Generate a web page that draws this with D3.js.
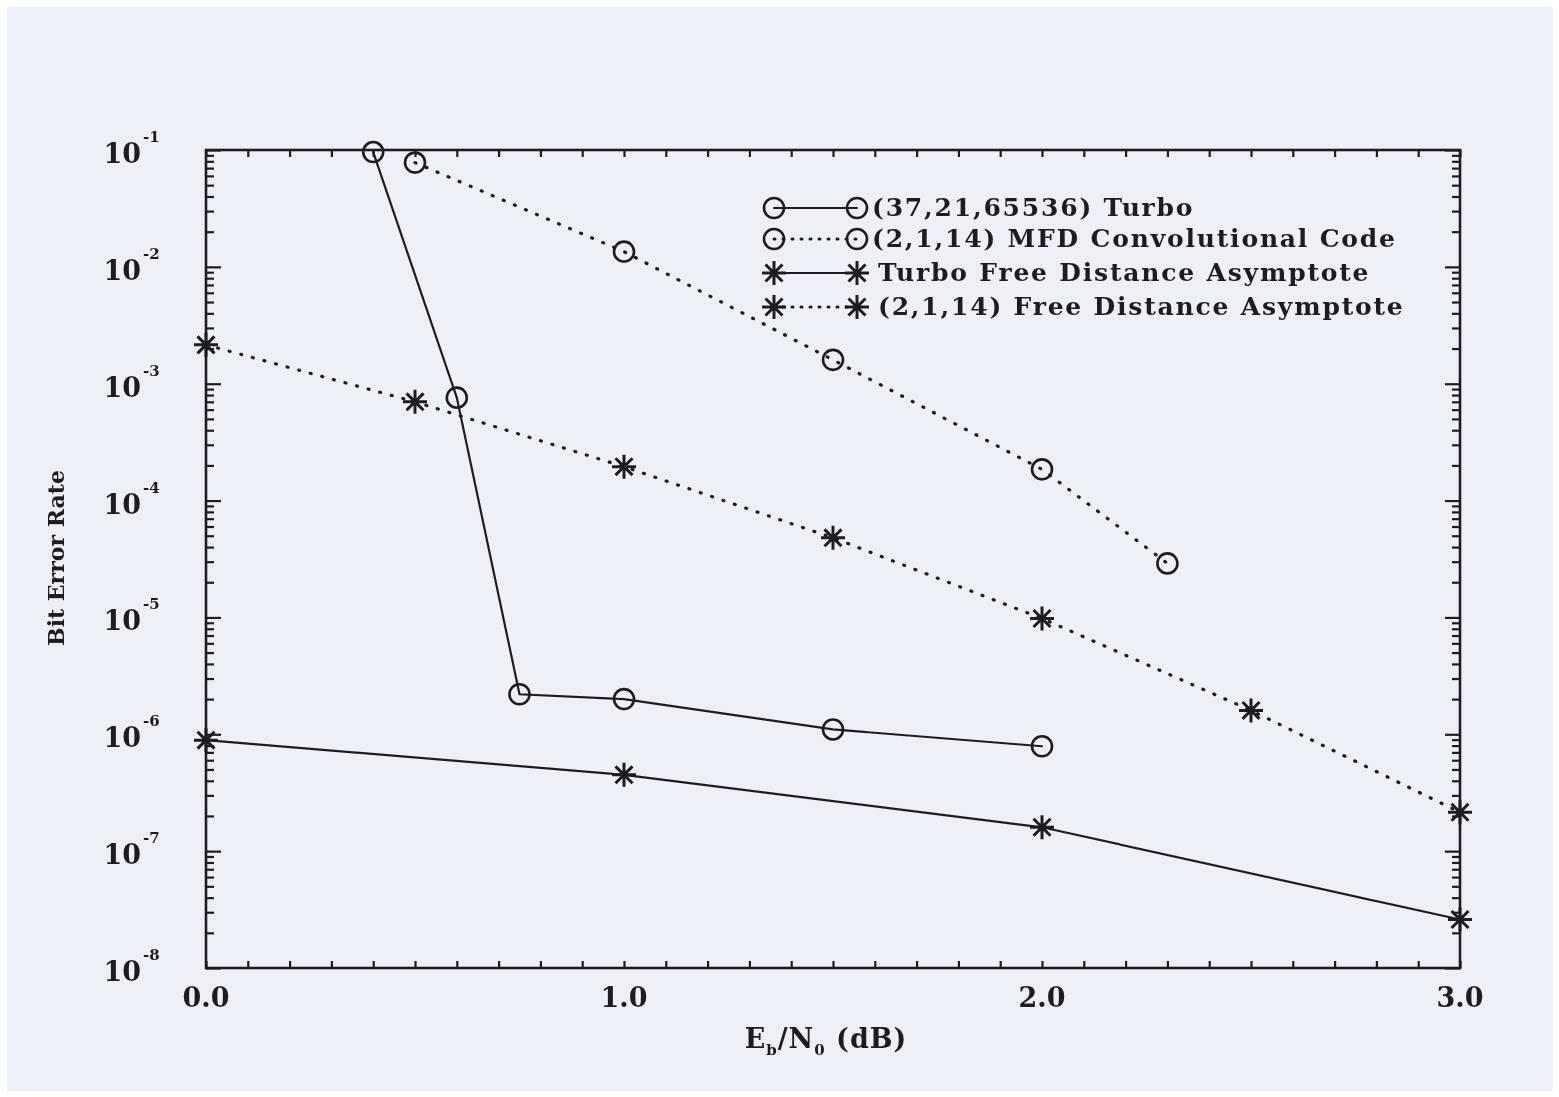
<!DOCTYPE html>
<html>
<head>
<meta charset="utf-8">
<script src="https://cdn.jsdelivr.net/npm/d3@7/dist/d3.min.js"></script>
<style>
  html, body { margin: 0; padding: 0; background: #ffffff; }
  svg { display: block; }
  text { font-family: "DejaVu Serif", "Liberation Serif", serif; font-weight: bold; fill: #1e1e22; }
</style>
</head>
<body>
<svg id="chart" width="1559" height="1097"></svg>
<script>
// Eb/N0 sample points (dB) and bit error rates for each curve
const turboX = [0.4, 0.6, 0.75, 1.0, 1.5, 2.0];
const turboBER = [9.6e-2, 7.6e-4, 2.2e-6, 2.0e-6, 1.1e-6, 7.9e-7];

const mfdX = [0.5, 1.0, 1.5, 2.0, 2.3];
const mfdBER = [7.8e-2, 1.35e-2, 1.6e-3, 1.85e-4, 2.9e-5];

const turboAsymX = [0.0, 1.0, 2.0, 3.0];
const turboAsymBER = [8.9e-7, 4.5e-7, 1.6e-7, 2.6e-8];

const convAsymX = [0.0, 0.5, 1.0, 1.5, 2.0, 2.5, 3.0];
const convAsymBER = [2.15e-3, 7.0e-4, 1.95e-4, 4.8e-5, 9.8e-6, 1.6e-6, 2.15e-7];

const xTickLabels = ["0.0", "1.0", "2.0", "3.0"];
const yDecades = [-1, -2, -3, -4, -5, -6, -7, -8];

const legendLabels = [
  "(37,21,65536) Turbo",
  "(2,1,14) MFD Convolutional Code",
  "Turbo Free Distance Asymptote",
  "(2,1,14) Free Distance Asymptote"
];

const ink = "#1e1e22";
const svg = d3.select("#chart");

// soft scan look
const defs = svg.append("defs");
defs.append("filter").attr("id", "soft")
  .append("feGaussianBlur").attr("stdDeviation", 0.6);

// paper sheet
svg.append("rect").attr("x", 7).attr("y", 7).attr("width", 1546).attr("height", 1084)
  .attr("fill", "#eef0f8");

const g = svg.append("g").attr("filter", "url(#soft)");

const plotL = 206, plotR = 1460, plotT = 150, plotB = 968;
const x = d3.scaleLinear().domain([0, 3]).range([plotL, plotR]);
const y = d3.scaleLog().domain([1e-8, 1e-1]).range([plotB, plotT]);

// tick values
const majorY = yDecades.map(e => Math.pow(10, e));
const minorY = [];
for (let e = -8; e < -1; e++) for (let m = 2; m <= 9; m++) minorY.push(m * Math.pow(10, e));
const minorX = d3.range(0, 31).map(i => i / 10);

function styleAxis(sel) {
  sel.select(".domain").remove();
  sel.selectAll(".tick line").attr("stroke", ink).attr("stroke-width", 2.2);
  sel.selectAll(".tick text").remove();
}

// left / right axes (inward ticks)
g.append("g").attr("transform", `translate(${plotL},0)`)
  .call(d3.axisLeft(y).tickValues(minorY).tickSize(-8)).call(styleAxis);
g.append("g").attr("transform", `translate(${plotL},0)`)
  .call(d3.axisLeft(y).tickValues(majorY).tickSize(-15)).call(styleAxis);
g.append("g").attr("transform", `translate(${plotR},0)`)
  .call(d3.axisRight(y).tickValues(minorY).tickSize(-8)).call(styleAxis);
g.append("g").attr("transform", `translate(${plotR},0)`)
  .call(d3.axisRight(y).tickValues(majorY).tickSize(-15)).call(styleAxis);

// top / bottom axes
g.append("g").attr("transform", `translate(0,${plotB})`)
  .call(d3.axisBottom(x).tickValues(minorX).tickSize(-7)).call(styleAxis);
g.append("g").attr("transform", `translate(0,${plotT})`)
  .call(d3.axisTop(x).tickValues(minorX).tickSize(-7)).call(styleAxis);

// frame
g.append("rect").attr("x", plotL).attr("y", plotT)
  .attr("width", plotR - plotL).attr("height", plotB - plotT)
  .attr("fill", "none").attr("stroke", ink).attr("stroke-width", 2.6);

// y tick labels 10^-n
yDecades.forEach(e => {
  const yy = y(Math.pow(10, e));
  g.append("text")
    .attr("x", 141).attr("y", yy + 13)
    .attr("text-anchor", "end").attr("font-size", 27).text("10");
  g.append("text")
    .attr("x", 143).attr("y", yy - 8)
    .attr("font-size", 15).text("-" + (-e));
});

// x tick labels
xTickLabels.forEach(s => {
  g.append("text").attr("x", x(+s)).attr("y", 1007)
    .attr("text-anchor", "middle").attr("font-size", 27).text(s);
});

// axis titles
const xt = g.append("text").attr("x", 826).attr("y", 1048)
  .attr("text-anchor", "middle").attr("font-size", 27).attr("letter-spacing", 1);
xt.append("tspan").text("E");
xt.append("tspan").attr("font-size", 15).attr("dy", 7).text("b");
xt.append("tspan").attr("dy", -7).text("/N");
xt.append("tspan").attr("font-size", 15).attr("dy", 7).text("0");
xt.append("tspan").attr("dy", -7).text(" (dB)");

g.append("text")
  .attr("transform", "translate(64,558) rotate(-90)")
  .attr("text-anchor", "middle").attr("font-size", 22)
  .text("Bit Error Rate");

// series
const series = [
  { xs: turboX, ys: turboBER, dotted: false, mark: "circle" },
  { xs: mfdX, ys: mfdBER, dotted: true, mark: "circle" },
  { xs: turboAsymX, ys: turboAsymBER, dotted: false, mark: "star" },
  { xs: convAsymX, ys: convAsymBER, dotted: true, mark: "star" }
];

const line = d3.line().x(d => x(d[0])).y(d => y(d[1]));

function starPath(r) {
  const d = r * Math.SQRT1_2;
  return `M${-r},0L${r},0M0,${-r}L0,${r}M${-d},${-d}L${d},${d}M${-d},${d}L${d},${-d}`;
}

function drawMarker(sel, kind, cx, cy) {
  if (kind === "circle") {
    sel.append("circle").attr("cx", cx).attr("cy", cy).attr("r", 10)
      .attr("fill", "none").attr("stroke", ink).attr("stroke-width", 2.6);
  } else {
    sel.append("path").attr("transform", `translate(${cx},${cy})`)
      .attr("d", starPath(12)).attr("fill", "none")
      .attr("stroke", ink).attr("stroke-width", 3);
  }
}

series.forEach(s => {
  const pts = s.xs.map((v, i) => [v, s.ys[i]]);
  g.append("path").datum(pts).attr("d", line)
    .attr("fill", "none").attr("stroke", ink)
    .attr("stroke-width", s.dotted ? 3.2 : 2.2)
    .attr("stroke-linecap", "round")
    .attr("stroke-dasharray", s.dotted ? "1,11" : null);
  pts.forEach(p => drawMarker(g, s.mark, x(p[0]), y(p[1])));
});

// legend
const legY = [208, 239, 273, 307];
legendLabels.forEach((lab, i) => {
  const s = series[i];
  const yy = legY[i];
  g.append("line").attr("x1", 774).attr("x2", 857).attr("y1", yy).attr("y2", yy)
    .attr("stroke", ink).attr("stroke-width", s.dotted ? 3 : 2.2)
    .attr("stroke-linecap", "round")
    .attr("stroke-dasharray", s.dotted ? "1,8" : null);
  drawMarker(g, s.mark, 774, yy);
  drawMarker(g, s.mark, 857, yy);
  g.append("text").attr("x", i < 2 ? 872 : 878).attr("y", yy + 8)
    .attr("font-size", 25).attr("letter-spacing", 1.8).text(lab);
});
</script>
</body>
</html>
